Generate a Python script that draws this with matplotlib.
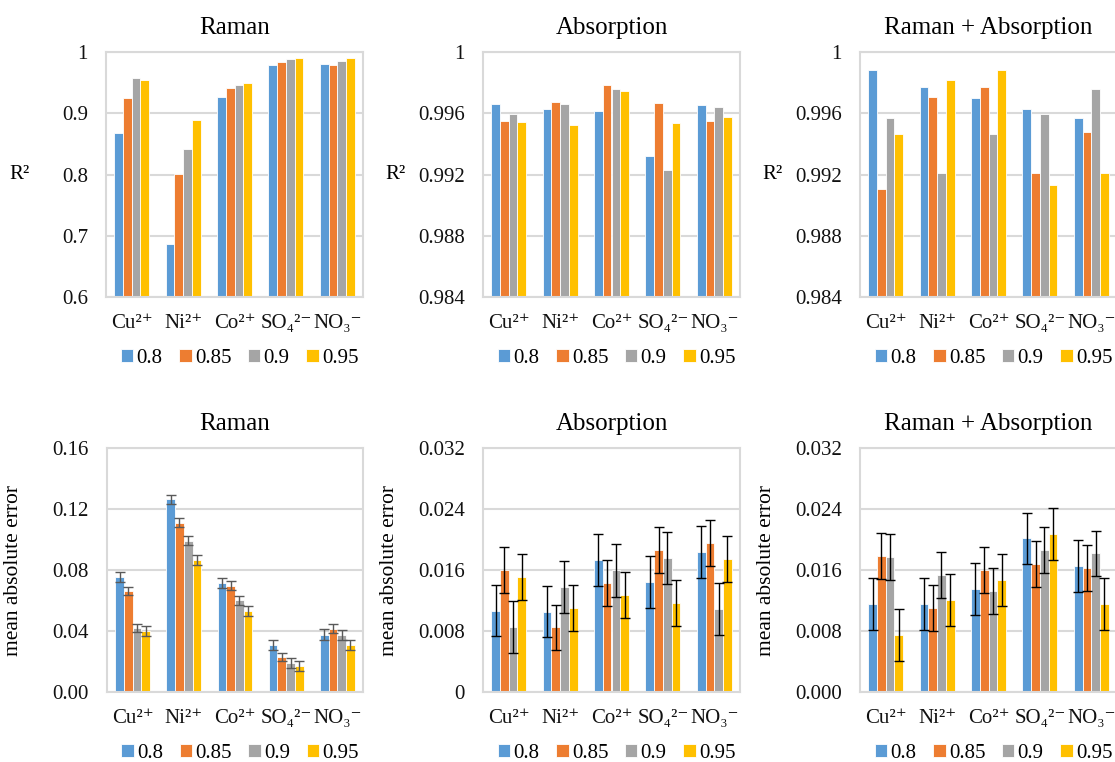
import numpy as np
import matplotlib
matplotlib.use("Agg")
import matplotlib.pyplot as plt

plt.rcParams['font.family'] = ['Liberation Serif', 'DejaVu Serif']

ions = ['Cu²⁺', 'Ni²⁺', 'Co²⁺', 'SO₄²⁻', 'NO₃⁻']
thresholds = ['0.8', '0.85', '0.9', '0.95']
colors = ['#5B9BD5', '#ED7D31', '#A5A5A5', '#FFC000']

# R^2 values, one row per threshold (0.8, 0.85, 0.9, 0.95)
r2_raman = [
    [0.867, 0.686, 0.927, 0.979, 0.981],
    [0.925, 0.800, 0.941, 0.984, 0.979],
    [0.958, 0.841, 0.946, 0.988, 0.986],
    [0.954, 0.889, 0.950, 0.991, 0.991],
]
r2_absorption = [
    [0.99658, 0.99628, 0.99617, 0.99321, 0.99652],
    [0.99547, 0.99671, 0.99787, 0.99665, 0.99547],
    [0.99597, 0.99658, 0.99758, 0.99227, 0.99641],
    [0.99541, 0.99523, 0.99745, 0.99534, 0.99573],
]
r2_combined = [
    [0.99880, 0.99769, 0.99702, 0.99628, 0.99567],
    [0.99105, 0.99708, 0.99769, 0.99210, 0.99480],
    [0.99567, 0.99210, 0.99462, 0.99597, 0.99756],
    [0.99462, 0.99819, 0.99880, 0.99129, 0.99210],
]

# mean absolute error and its error bars
mae_raman = [
    [0.0754, 0.1264, 0.0715, 0.0307, 0.0377],
    [0.0663, 0.1110, 0.0698, 0.0231, 0.0416],
    [0.0421, 0.0992, 0.0602, 0.0190, 0.0375],
    [0.0403, 0.0865, 0.0532, 0.0170, 0.0310],
]
mae_raman_err = [
    [0.0033, 0.0029, 0.0035, 0.0033, 0.0033],
    [0.0028, 0.0030, 0.0028, 0.0028, 0.0029],
    [0.0028, 0.0030, 0.0030, 0.0032, 0.0033],
    [0.0033, 0.0035, 0.0035, 0.0033, 0.0034],
]
mae_absorption = [
    [0.01068, 0.01055, 0.01731, 0.01439, 0.01831],
    [0.01604, 0.00846, 0.01434, 0.01866, 0.01953],
    [0.00854, 0.01373, 0.01596, 0.01757, 0.01094],
    [0.01508, 0.01103, 0.01273, 0.01168, 0.01744],
]
mae_absorption_err = [
    [0.0034, 0.0034, 0.0034, 0.0034, 0.0034],
    [0.0030, 0.0030, 0.0030, 0.0030, 0.0030],
    [0.0034, 0.0034, 0.0035, 0.0034, 0.0034],
    [0.0030, 0.0030, 0.0030, 0.0030, 0.0030],
]
mae_combined = [
    [0.01151, 0.01151, 0.01351, 0.02014, 0.01657],
    [0.01783, 0.01103, 0.01596, 0.01683, 0.01630],
    [0.01766, 0.01535, 0.01325, 0.01862, 0.01818],
    [0.00746, 0.01203, 0.01469, 0.02075, 0.01151],
]
mae_combined_err = [
    [0.0034, 0.0034, 0.0034, 0.0034, 0.0034],
    [0.0030, 0.0030, 0.0030, 0.0030, 0.0030],
    [0.0030, 0.0030, 0.0030, 0.0030, 0.0030],
    [0.0034, 0.0034, 0.0034, 0.0034, 0.0034],
]

W, H = 1115, 762
fig = plt.figure(figsize=(W / 100, H / 100), dpi=100)


def make_axes(left, top, right, bottom):
    return fig.add_axes([left / W, 1 - bottom / H, (right - left) / W, (bottom - top) / H])


def draw_panel(ax, title, data, ylim, yticks, ylabels, ylabel, errs=None, ecolor='black', label_x=-0.335):
    x = np.arange(len(ions))
    bw = 0.17
    for i, (vals, c) in enumerate(zip(data, colors)):
        pos = x + (i - 1.5) * bw
        bottom = ylim[0]
        ax.bar(pos, np.array(vals) - bottom, bw, bottom=bottom, color=c,
               edgecolor='white', linewidth=0.6, label=thresholds[i], zorder=2)
        if errs is not None:
            ax.errorbar(pos, vals, yerr=errs[i], fmt='none', ecolor=ecolor,
                        elinewidth=1.0, capsize=3.8, capthick=1.0, zorder=3)
    ax.set_xlim(-0.5, len(ions) - 0.5)
    ax.set_ylim(*ylim)
    ax.set_yticks(yticks)
    ax.set_yticklabels(ylabels)
    ax.set_xticks(x)
    ax.set_xticklabels(ions)
    ax.tick_params(axis='both', length=0, labelsize=15, colors='#111111')
    ax.tick_params(axis='y', pad=13)
    ax.tick_params(axis='x', pad=12)
    ax.grid(axis='y', color='#D9D9D9', linewidth=1.5, zorder=0)
    ax.set_axisbelow(True)
    for s in ax.spines.values():
        s.set_color('#D9D9D9')
        s.set_linewidth(1.5)
    ax.set_title(title, fontsize=18, pad=13)
    if ylabel == 'R²':
        ax.set_ylabel(ylabel, fontsize=15, rotation=0, va='center', ha='center')
    else:
        ax.set_ylabel(ylabel, fontsize=15.5)
    ax.yaxis.set_label_coords(label_x, 0.5)
    ax.legend(loc='center', bbox_to_anchor=(0.52, -0.25), ncol=4, frameon=False,
              fontsize=15, handlelength=0.6, handleheight=0.6, handletextpad=0.15,
              columnspacing=0.8, borderaxespad=0)


ax1 = make_axes(106, 52, 363, 297)
ax2 = make_axes(483, 52, 740, 297)
ax3 = make_axes(860, 52, 1117, 297)
ax4 = make_axes(107, 448, 363, 692)
ax5 = make_axes(483, 448, 740, 692)
ax6 = make_axes(860, 448, 1117, 692)

r2_ticks = [0.984, 0.988, 0.992, 0.996, 1.0]
r2_labels = ['0.984', '0.988', '0.992', '0.996', '1']
draw_panel(ax1, 'Raman', r2_raman, (0.6, 1.0), [0.6, 0.7, 0.8, 0.9, 1.0],
           ['0.6', '0.7', '0.8', '0.9', '1'], 'R²')
draw_panel(ax2, 'Absorption', r2_absorption, (0.984, 1.0), r2_ticks, r2_labels, 'R²', label_x=-0.339)
draw_panel(ax3, 'Raman + Absorption', r2_combined, (0.984, 1.0), r2_ticks, r2_labels, 'R²', label_x=-0.339)

mae_ticks = [0, 0.008, 0.016, 0.024, 0.032]
draw_panel(ax4, 'Raman', mae_raman, (0, 0.16), [0, 0.04, 0.08, 0.12, 0.16],
           ['0.00', '0.04', '0.08', '0.12', '0.16'], 'mean absolute error',
           errs=mae_raman_err, ecolor='#595959', label_x=-0.33)
draw_panel(ax5, 'Absorption', mae_absorption, (0, 0.032), mae_ticks,
           ['0', '0.008', '0.016', '0.024', '0.032'], 'mean absolute error',
           errs=mae_absorption_err, label_x=-0.327)
draw_panel(ax6, 'Raman + Absorption', mae_combined, (0, 0.032), mae_ticks,
           ['0.000', '0.008', '0.016', '0.024', '0.032'], 'mean absolute error',
           errs=mae_combined_err, label_x=-0.327)

fig.savefig('out.png', dpi=100)
